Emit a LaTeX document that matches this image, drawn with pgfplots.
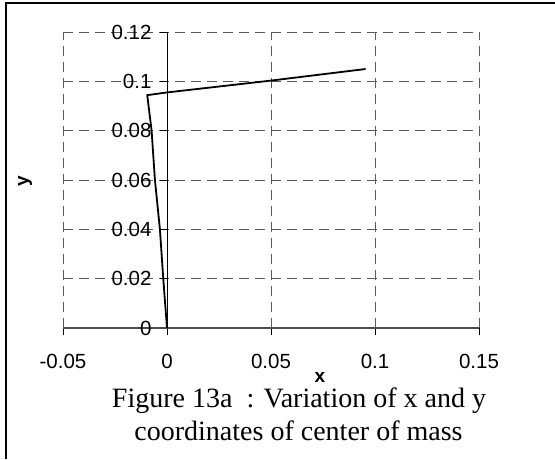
\documentclass[border=0pt]{standalone}
\usepackage{pgfplots}
\pgfplotsset{compat=1.18}
\usepackage{fontspec}
\setmainfont{Liberation Serif}
\newfontfamily\arial{Liberation Sans}
\begin{document}
\begin{tikzpicture}[x=1pt,y=1pt]
\path[use as bounding box] (0,0) rectangle (555,459);
\draw[line width=1.5pt] (6,0) -- (6,456) -- (555,456);
\begin{axis}[
  at={(63pt,131pt)}, anchor=south west,
  scale only axis, width=416pt, height=296pt,
  xmin=-0.05, xmax=0.15, ymin=0, ymax=0.12,
  axis x line=bottom, axis y line=middle,
  axis line style={-},
  x axis line style={draw=black!70, line width=1.2pt},
  y axis line style={draw=black, line width=0.8pt},
  hide obscured x ticks=false, hide obscured y ticks=false,
  xtick={-0.05,0,0.05,0.1,0.15}, xticklabels={-0.05,0,0.05,0.1,0.15},
  ytick={0,0.02,0.04,0.06,0.08,0.1,0.12}, yticklabels={0,0.02,0.04,0.06,0.08,0.1,0.12},
  grid=major, major grid style={draw=black!65, line width=0.8pt, dash pattern=on 10pt off 6pt},
  tick align=outside, major tick length=7pt,
  tick style={draw=black, line width=0.8pt},
  ticklabel style={font=\arial\fontsize{20.5}{20.5}\selectfont},
  xticklabel style={yshift=-16pt},
  yticklabel style={xshift=-5pt},
  clip=false,
]
\addplot[black, line width=1.8pt] coordinates {
  (0,0) (-0.0018,0.02) (-0.0034,0.04) (-0.0058,0.06) (-0.0074,0.08)
  (-0.0095,0.0944) (0,0.0955) (0.05,0.1003) (0.0955,0.105)
};
\end{axis}
\node[anchor=base, font=\arial\bfseries\fontsize{19}{19}\selectfont, inner sep=0] at (320,77) {x};
\node[anchor=base, rotate=90, font=\arial\bfseries\fontsize{19}{19}\selectfont, inner sep=0] at (28,278) {y};
\node[anchor=base, font=\fontsize{28}{28}\selectfont, inner sep=0] at (299,52) {Figure 13a\ \ : Variation of x and y};
\node[anchor=base, font=\fontsize{28}{28}\selectfont, inner sep=0] at (298.5,19) {coordinates of center of mass};
\end{tikzpicture}
\end{document}
